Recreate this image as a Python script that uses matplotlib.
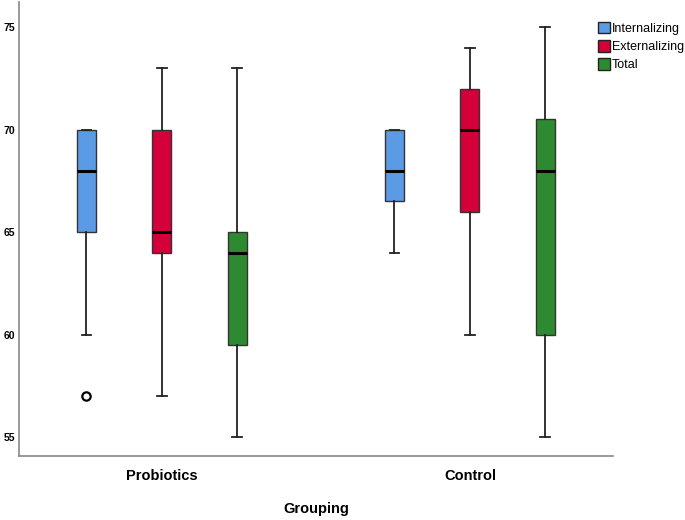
import matplotlib.pyplot as plt
from matplotlib.patches import Patch

plt.rcParams['font.family'] = ['Liberation Sans', 'DejaVu Sans']

groups = ['Probiotics', 'Control']
series = ['Internalizing', 'Externalizing', 'Total']
colors = ['#5b9be6', '#d4003a', '#2e8a30']

# per group, per series: (whislo, q1, med, q3, whishi)
probiotics = [(60, 65, 68, 70, 70), (57, 64, 65, 70, 73), (55, 59.5, 64, 65, 73)]
control = [(64, 66.5, 68, 70, 70), (60, 66, 70, 72, 74), (55, 60, 68, 70.5, 75)]
outliers_probiotics = [[57], [], []]
outliers_control = [[], [], []]

fig = plt.figure(figsize=(6.85, 5.2), dpi=100)
ax = fig.add_axes([0.0277, 0.123, 0.867, 0.873])

offsets = [-0.245, 0, 0.245]
for gi, (data, outs) in enumerate([(probiotics, outliers_probiotics), (control, outliers_control)]):
    for si, (lo, q1, med, q3, hi) in enumerate(data):
        stats = [dict(whislo=lo, q1=q1, med=med, q3=q3, whishi=hi, fliers=outs[si])]
        ax.bxp(stats, positions=[gi + offsets[si]], widths=0.062, patch_artist=True,
               showfliers=True,
               boxprops=dict(facecolor=colors[si], edgecolor='#333333', linewidth=1.0),
               medianprops=dict(color='black', linewidth=2.2),
               whiskerprops=dict(color='#222222', linewidth=1.3),
               capprops=dict(color='#222222', linewidth=1.3),
               capwidths=0.032,
               flierprops=dict(marker='o', markerfacecolor='white', markeredgecolor='black',
                               markersize=6, markeredgewidth=1.6))

ax.set_xlim(-0.464, 1.464)
ax.set_ylim(54.07, 76.22)
ax.set_yticks([55, 60, 65, 70, 75])
ax.set_yticklabels(['55', '60', '65', '70', '75'], fontsize=7.5, fontweight='bold')
ax.set_xticks([0, 1])
ax.set_xticklabels(groups, fontsize=10.5, fontweight='bold')
ax.tick_params(axis='both', length=0)
ax.tick_params(axis='x', pad=9)
ax.tick_params(axis='y', pad=3)
ax.set_xlabel('Grouping', fontsize=10.5, fontweight='bold', labelpad=14)

for s in ['top', 'right']:
    ax.spines[s].set_visible(False)
for s in ['left', 'bottom']:
    ax.spines[s].set_color('#888888')
    ax.spines[s].set_linewidth(1.2)

handles = [Patch(facecolor=c, edgecolor='#222222', label=l) for c, l in zip(colors, series)]
fig.legend(handles=handles, loc='upper left', bbox_to_anchor=(0.866, 0.968),
           frameon=False, fontsize=9, handlelength=0.95, handleheight=1.05,
           handletextpad=0.12, labelspacing=0.42, borderaxespad=0)

fig.savefig('out.png', dpi=100)
